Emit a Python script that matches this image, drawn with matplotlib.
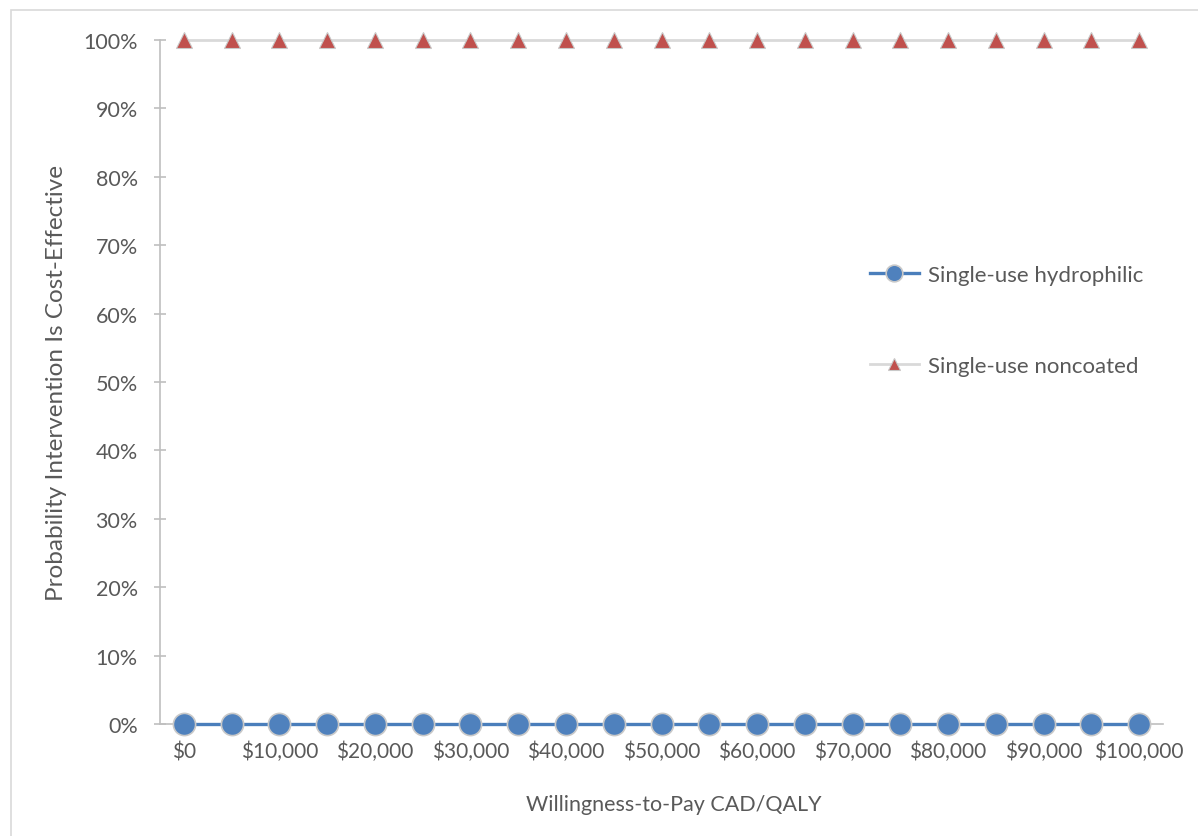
import matplotlib.pyplot as plt
from matplotlib.patches import Rectangle

plt.rcParams['font.family'] = ['Lato', 'DejaVu Sans']

# Willingness-to-pay thresholds (CAD/QALY), one category every $5,000
wtp = [0, 5000, 10000, 15000, 20000, 25000, 30000, 35000, 40000, 45000, 50000,
       55000, 60000, 65000, 70000, 75000, 80000, 85000, 90000, 95000, 100000]
p_hydrophilic = [0.0] * 21
p_noncoated = [1.0] * 21
y_ticks = [0, 0.1, 0.2, 0.3, 0.4, 0.5, 0.6, 0.7, 0.8, 0.9, 1.0]

TEXT = "#595959"
AXIS = "#BFBFBF"

fig = plt.figure(figsize=(11.98, 8.37), dpi=100)
ax = fig.add_axes([160 / 1198, 1 - 725 / 837, 1003 / 1198, 684 / 837])

# chart-area border
fig.patches.append(Rectangle((11 / 1198, -0.1), 1.2, 1 - 11 / 837 + 0.1,
                             transform=fig.transFigure, fill=False,
                             edgecolor="#D9D9D9", linewidth=1.2))

x = list(range(len(wtp)))
ax.plot(x, p_hydrophilic, color="#4A7EBB", linewidth=2.4, marker="o",
        markersize=16, markerfacecolor="#4F81BD", markeredgecolor="#C9C9C9",
        markeredgewidth=1.2, clip_on=False, label="Single-use hydrophilic", zorder=3)
ax.plot(x, p_noncoated, color="#D9D9D9", linewidth=2.0, marker="^",
        markersize=11, markerfacecolor="#C0504D", markeredgecolor="#C9C9C9",
        markeredgewidth=0.8, clip_on=False, label="Single-use noncoated", zorder=3)

ax.set_xlim(-0.5, len(wtp) - 0.5)
ax.set_ylim(0, 1)

# category labels on every other point, aligned on a common baseline
ax.set_xticks(x[::2])
ax.set_xticklabels([f"${v:,.0f}" for v in wtp[::2]], fontsize=15, color=TEXT)
ax.tick_params(axis="x", length=0, pad=24)
for lbl in ax.get_xticklabels():
    lbl.set_verticalalignment("baseline")

ax.set_yticks(y_ticks)
ax.set_yticklabels([f"{v:.0%}" for v in y_ticks], fontsize=15.5, color=TEXT)
ax.tick_params(axis="y", direction="inout", length=8, width=1.2, color=AXIS, pad=12)

for side in ("top", "right"):
    ax.spines[side].set_visible(False)
for side in ("left", "bottom"):
    ax.spines[side].set_color(AXIS)
    ax.spines[side].set_linewidth(1.2)

ax.set_xlabel("Willingness-to-Pay CAD/QALY", fontsize=15.5, color=TEXT)
ax.xaxis.set_label_coords(0.512, -0.103)
ax.set_ylabel("Probability Intervention Is Cost-Effective", fontsize=17.5,
              color=TEXT, labelpad=12)

leg = ax.legend(loc="upper left", bbox_to_anchor=(690 / 1003, 1 - 205 / 684),
                frameon=False, fontsize=16, labelspacing=3.2, handlelength=2.2,
                handletextpad=0.4, labelcolor=TEXT, markerscale=0.75)

fig.savefig("out.png", dpi=100)
